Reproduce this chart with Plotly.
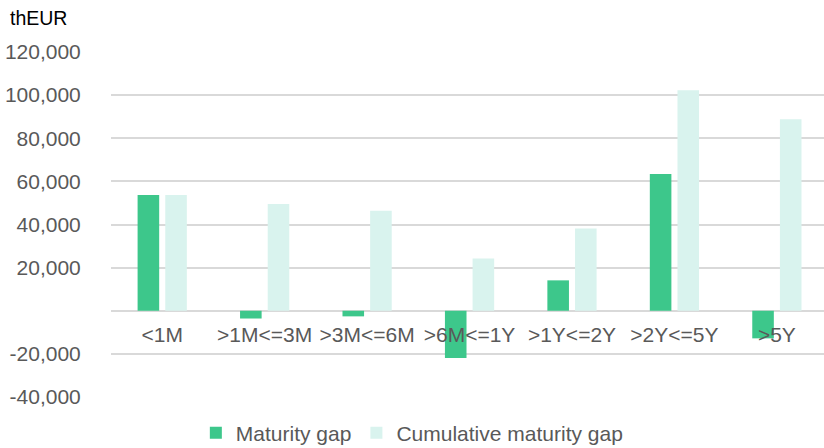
import plotly.graph_objects as go

# Maturity buckets and gap figures (thEUR)
categories = ["<1M", ">1M<=3M", ">3M<=6M", ">6M<=1Y", ">1Y<=2Y", ">2Y<=5Y", ">5Y"]
maturity_gap = [53700, -3600, -2600, -21900, 14100, 63400, -12800]
cumulative_gap = [53700, 49500, 46400, 24200, 38100, 102300, 88800]
y_ticks = [-40000, -20000, 0, 20000, 40000, 60000, 80000, 100000, 120000]
y_tick_text = ["-40,000", "-20,000", "", "20,000", "40,000", "60,000", "80,000", "100,000", "120,000"]

GREEN = "#3DC78B"
LIGHT = "#D9F3EE"
GREY_TEXT = "#595959"
GRID = "#D9D9D9"
FONT = "Liberation Sans, Arial, sans-serif"

fig = go.Figure()
fig.add_trace(go.Bar(x=categories, y=maturity_gap, name="Maturity gap",
                     marker=dict(color=GREEN, line=dict(width=0))))
fig.add_trace(go.Bar(x=categories, y=cumulative_gap, name="Cumulative maturity gap",
                     marker=dict(color=LIGHT, line=dict(width=0))))

fig.update_layout(
    width=824, height=448,
    margin=dict(l=111, r=0, t=52, b=51, autoexpand=False),
    paper_bgcolor="white", plot_bgcolor="white",
    barmode="group", bargap=0.46, bargroupgap=0.22,
    font=dict(family=FONT, size=21, color=GREY_TEXT),
    showlegend=True,
    legend=dict(orientation="h", x=0.119, xanchor="left",
                yref="container", y=0.033, yanchor="middle",
                font=dict(size=21, color=GREY_TEXT), itemwidth=30,
                traceorder="normal"),
    annotations=[dict(text="thEUR", xref="paper", yref="paper",
                      x=-0.102, y=1.0986, xanchor="center", yanchor="middle",
                      showarrow=False, font=dict(size=19.5, color="black", family=FONT))],
)

fig.update_xaxes(
    type="category", range=[-0.5, 6.46],
    anchor="free", position=0.25,
    showline=False, showgrid=False, zeroline=False,
    ticks="outside", ticklen=5, tickcolor="rgba(0,0,0,0)",
    tickfont=dict(size=21, color=GREY_TEXT),
)
fig.update_yaxes(
    range=[-40000, 120000], tickvals=y_ticks, ticktext=y_tick_text,
    showgrid=True, gridcolor=GRID, gridwidth=1.5,
    zeroline=True, zerolinecolor=GRID, zerolinewidth=1.5,
    showline=False, ticks="outside", ticklen=25, tickcolor="rgba(0,0,0,0)",
    tickfont=dict(size=21, color=GREY_TEXT),
)

fig.write_html("out.html")
